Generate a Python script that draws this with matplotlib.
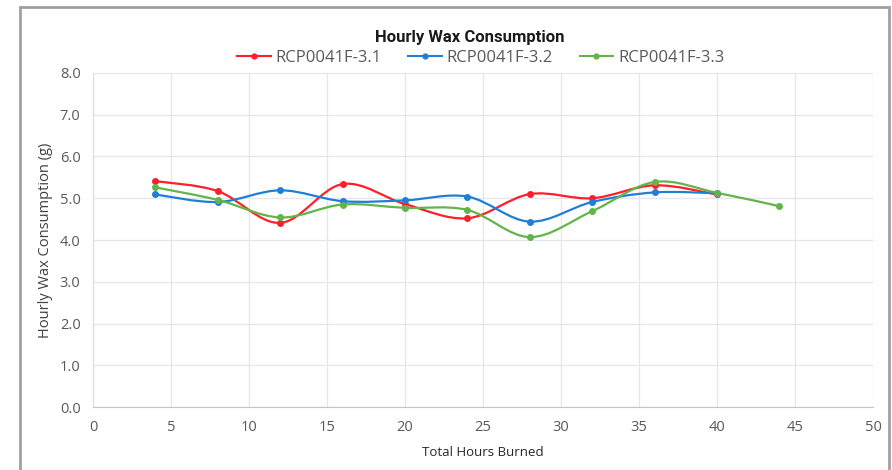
import matplotlib.pyplot as plt
import numpy as np
from matplotlib.path import Path
from matplotlib.patches import PathPatch, Rectangle
from matplotlib.lines import Line2D

hours_a = [4, 8, 12, 16, 20, 24, 28, 32, 36, 40]
hours_c = [4, 8, 12, 16, 20, 24, 28, 32, 36, 40, 44]
wax_31 = [5.41, 5.17, 4.41, 5.34, 4.86, 4.52, 5.10, 5.00, 5.31, 5.09]
wax_32 = [5.09, 4.91, 5.19, 4.93, 4.95, 5.04, 4.44, 4.91, 5.14, 5.12]
wax_33 = [5.26, 4.96, 4.54, 4.85, 4.77, 4.72, 4.07, 4.69, 5.39, 5.13, 4.81]

series = [
    ('RCP0041F-3.1', hours_a, wax_31, '#FF1F2A'),
    ('RCP0041F-3.2', hours_a, wax_32, '#1F7FD6'),
    ('RCP0041F-3.3', hours_c, wax_33, '#62B548'),
]

x_ticks = list(range(0, 51, 5))
y_ticks = [0, 1, 2, 3, 4, 5, 6, 7, 8]


def smooth_path(x, y):
    # excel-style smoothed line: cubic bezier through the points
    pts = np.column_stack([x, y]).astype(float)
    verts = [pts[0]]
    codes = [Path.MOVETO]
    n = len(pts)
    for i in range(n - 1):
        p0 = pts[i - 1] if i > 0 else pts[i]
        p1 = pts[i]
        p2 = pts[i + 1]
        p3 = pts[i + 2] if i + 2 < n else pts[i + 1]
        c1 = p1 + (p2 - p0) / 6.0
        c2 = p2 - (p3 - p1) / 6.0
        verts += [c1, c2, p2]
        codes += [Path.CURVE4] * 3
    return Path(verts, codes)


fig = plt.figure(figsize=(8.92, 4.7), dpi=100)
ax = fig.add_axes([0.1043, 0.134, 0.8744, 0.7107])

handles = []
for name, xs, ys, col in series:
    ax.add_patch(PathPatch(smooth_path(xs, ys), facecolor='none', edgecolor=col, lw=1.6, zorder=3))
    ax.plot(xs, ys, 'o', color=col, ms=4, zorder=4)
    handles.append(Line2D([0], [0], color=col, lw=1.5, marker='o', ms=3.5))

ax.set_xlim(0, 50)
ax.set_ylim(0, 8)
ax.set_xticks(x_ticks)
ax.set_yticks(y_ticks)
ax.set_yticklabels([f'{v:.1f}' for v in y_ticks])
ax.grid(True, color='#E3E6EE', lw=0.9)
ax.set_axisbelow(True)
for s in ['top', 'right']:
    ax.spines[s].set_visible(False)
ax.spines['left'].set_color('#D5DCEA')
ax.spines['bottom'].set_color('#B4C6E4')
ax.tick_params(length=0, colors='#595959', labelsize=10.5, pad=9)
for lab in ax.get_xticklabels() + ax.get_yticklabels():
    lab.set_fontfamily('Open Sans')

ax.set_xlabel('Total Hours Burned', fontsize=9.5, color='#262626', labelpad=8, fontfamily='Open Sans')
ax.set_ylabel('Hourly Wax Consumption (g)', fontsize=10.5, color='#404040', labelpad=5, fontfamily='Open Sans')

fig.text(0.527, 0.921, 'Hourly Wax Consumption', ha='center', va='center', fontsize=12,
         fontweight='bold', color='#1a1a1a', fontfamily=['Liberation Sans Narrow', 'Roboto'])
fig.legend(handles, [s[0] for s in series], loc='center', bbox_to_anchor=(0.539, 0.876), ncol=3,
           frameon=False, handlelength=2.0, columnspacing=1.6, handletextpad=0.3,
           labelcolor='#595959', prop={'family': 'Open Sans', 'size': 12})

fig.patches.append(Rectangle((20 / 892, -0.1), 869 / 892, 1.1 - 7 / 470, transform=fig.transFigure,
                             fill=False, edgecolor='#A0A0A0', lw=2, clip_on=False))

fig.savefig('out.png', dpi=100)
